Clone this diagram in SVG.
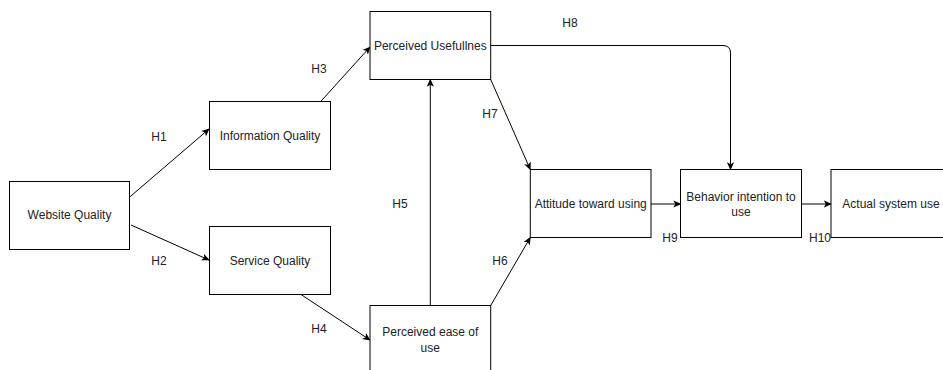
<svg xmlns="http://www.w3.org/2000/svg" width="943" height="370" viewBox="0 0 943 370">
<style>
.box{fill:#fff;stroke:#000;stroke-width:1}
.t{font-family:"Liberation Sans",Arial,sans-serif;font-size:12px;fill:#222;text-anchor:middle;dominant-baseline:central}
.e{fill:none;stroke:#000;stroke-width:1}
</style>
<defs>
<marker id="arr" viewBox="0 0 10 10" refX="9" refY="5" markerWidth="8" markerHeight="8" markerUnits="userSpaceOnUse" orient="auto">
<path d="M0,0.5 L10,5 L0,9.5 L2.5,5 Z" fill="#000"/>
</marker>
</defs>
<rect width="943" height="370" fill="#fff"/>
<g id="connectors">
<path class="e" d="M129.7,197 L209,129" marker-end="url(#arr)"/>
<path class="e" d="M131,225 L209,260" marker-end="url(#arr)"/>
<path class="e" d="M320.7,101.5 L370,47" marker-end="url(#arr)"/>
<path class="e" d="M301,294.5 L370,340" marker-end="url(#arr)"/>
<path class="e" d="M430.3,305.5 L430.3,79.5" marker-end="url(#arr)"/>
<path class="e" d="M490.7,79.5 L530.3,169.5" marker-end="url(#arr)"/>
<path class="e" d="M490.7,305.5 L530.3,237.5" marker-end="url(#arr)"/>
<path class="e" d="M490.7,45.5 L723,45.5 Q730.5,45.5 730.5,53 L730.5,169.5" marker-end="url(#arr)"/>
<path class="e" d="M651,204 L680.5,204" marker-end="url(#arr)"/>
<path class="e" d="M801.5,204 L831,204" marker-end="url(#arr)"/>
</g>
<g id="labels">
<text class="t" x="159" y="137">H1</text>
<text class="t" x="159" y="261">H2</text>
<text class="t" x="319" y="69">H3</text>
<text class="t" x="319" y="329">H4</text>
<text class="t" x="400" y="204">H5</text>
<text class="t" x="500" y="261">H6</text>
<text class="t" x="490" y="114">H7</text>
<text class="t" x="570" y="23">H8</text>
<text class="t" x="670" y="238">H9</text>
<text class="t" x="820" y="238">H10</text>
</g>
<g id="website-quality">
<rect class="box" x="9.5" y="181.5" width="120" height="68"/>
<text class="t" x="69.5" y="215">Website Quality</text>
</g>
<g id="information-quality">
<rect class="box" x="209.5" y="101.5" width="121" height="68"/>
<text class="t" x="270" y="136">Information Quality</text>
</g>
<g id="service-quality">
<rect class="box" x="209.5" y="226.5" width="121" height="68"/>
<text class="t" x="270" y="261">Service Quality</text>
</g>
<g id="perceived-usefulness">
<rect class="box" x="370" y="11.5" width="120.7" height="68"/>
<text class="t" x="430.3" y="45.5">Perceived Usefullnes</text>
</g>
<g id="perceived-ease">
<rect class="box" x="370" y="305.5" width="120.7" height="68"/>
<text class="t" x="430.3" y="332">Perceived ease of</text>
<text class="t" x="430.3" y="347.5">use</text>
</g>
<g id="attitude">
<rect class="box" x="530.3" y="169.5" width="120.7" height="68"/>
<text class="t" x="590.7" y="204">Attitude toward using</text>
</g>
<g id="behavior-intention">
<rect class="box" x="680.5" y="169.5" width="121" height="68"/>
<text class="t" x="741" y="196.5">Behavior intention to</text>
<text class="t" x="741" y="212">use</text>
</g>
<g id="actual-use">
<rect class="box" x="831" y="169.5" width="121" height="68"/>
<text class="t" x="891" y="204">Actual system use</text>
</g>
</svg>
